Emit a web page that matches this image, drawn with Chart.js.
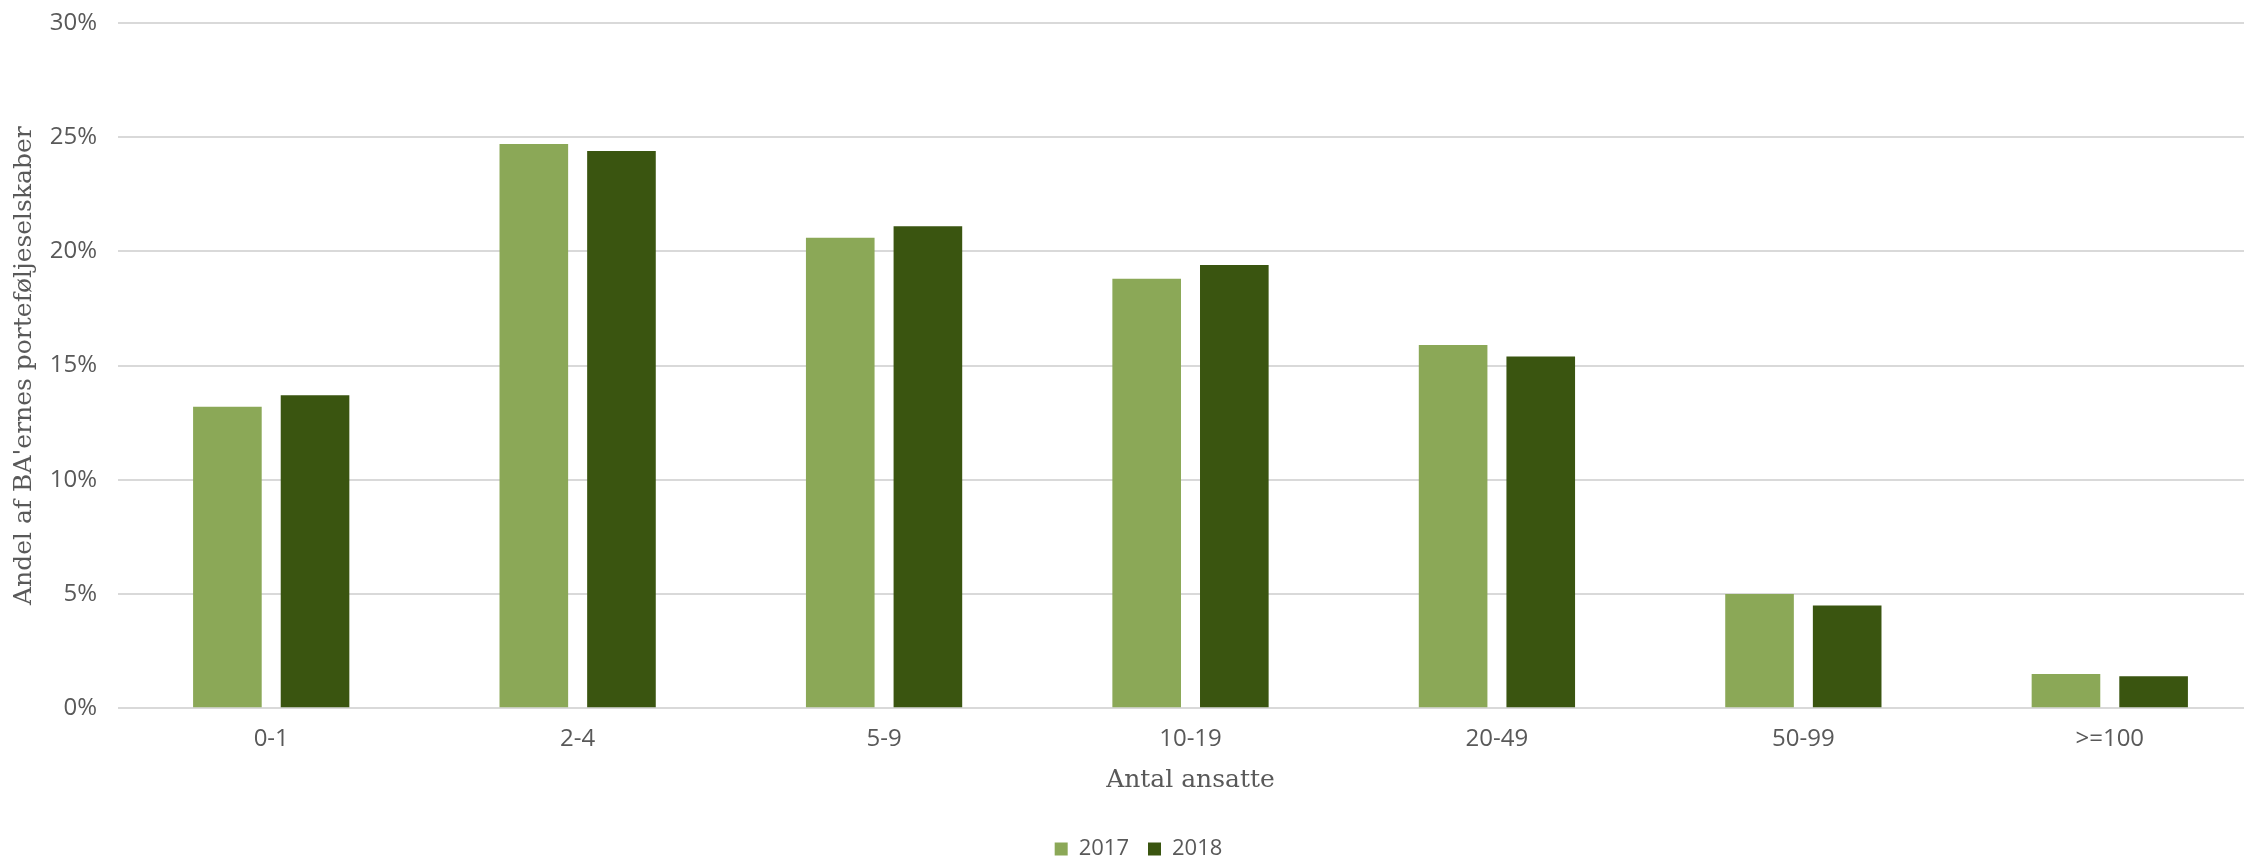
<!DOCTYPE html>
<html>
<head>
<meta charset="utf-8">
<script src="https://cdn.jsdelivr.net/npm/chart.js@4/dist/chart.umd.min.js"></script>
<style>
  html, body { margin: 0; padding: 0; background: #fff; overflow: hidden; }
  #wrap { width: 2277px; height: 874px; }
</style>
</head>
<body>
<div id="wrap"><canvas id="grafico" width="2277" height="874"></canvas></div>
<script>
const kategorier = ['0-1', '2-4', '5-9', '10-19', '20-49', '50-99', '>=100']
const andel2017 = [13.2, 24.7, 20.6, 18.8, 15.9, 5.0, 1.5]
const andel2018 = [13.7, 24.4, 21.1, 19.4, 15.4, 4.5, 1.4]
const yTicks = [0, 5, 10, 15, 20, 25, 30]

const tekstFarve = '#595959'
const sansFont = "'Open Sans', sans-serif"
const serifFont = "'DejaVu Serif', serif"

const grafico = document.getElementById('grafico')

// chart er lidt bredere end vinduet, ligesom originalen der er beskaaret i hoejre side
const graficoAnsatte = new Chart(grafico, {
  type: 'bar',
  data: {
    labels: kategorier,
    datasets: [{
      label: '2017',
      data: andel2017,
      backgroundColor: '#8BA857',
      borderWidth: 0
    }, {
      label: '2018',
      data: andel2018,
      backgroundColor: '#3A5510',
      borderWidth: 0
    }]
  },
  options: {
    responsive: false,
    animation: false,
    devicePixelRatio: 1,
    categoryPercentage: 0.572,
    barPercentage: 0.783,
    layout: { padding: { left: 14, right: 14, top: 23, bottom: 4 } },
    plugins: {
      legend: {
        position: 'bottom',
        labels: {
          boxWidth: 13,
          boxHeight: 13,
          padding: 19,
          color: tekstFarve,
          font: { family: sansFont, size: 22 }
        }
      },
      tooltip: { enabled: false }
    },
    scales: {
      x: {
        grid: { display: false, drawTicks: false },
        border: { display: false },
        ticks: {
          color: tekstFarve,
          padding: 17,
          font: { family: sansFont, size: 24 }
        },
        title: {
          display: true,
          text: 'Antal ansatte',
          color: tekstFarve,
          padding: { top: -6, bottom: 24 },
          font: { family: serifFont, size: 25 }
        }
      },
      y: {
        min: 0,
        max: 30,
        afterFit: (scale) => {
          scale.width = 104
          scale.paddingTop = 0
        },
        afterBuildTicks: (scale) => {
          scale.ticks = yTicks.map(v => ({ value: v }))
        },
        grid: { color: '#D9D9D9', lineWidth: 2, drawTicks: false },
        border: { display: false },
        ticks: {
          color: tekstFarve,
          padding: 21,
          font: { family: sansFont, size: 24 },
          callback: (v) => v + '%'
        },
        title: {
          display: true,
          text: "Andel af BA'ernes porteføljeselskaber",
          color: tekstFarve,
          padding: { top: -5, bottom: 0 },
          font: { family: serifFont, size: 25 }
        }
      }
    }
  }
})
</script>
</body>
</html>
